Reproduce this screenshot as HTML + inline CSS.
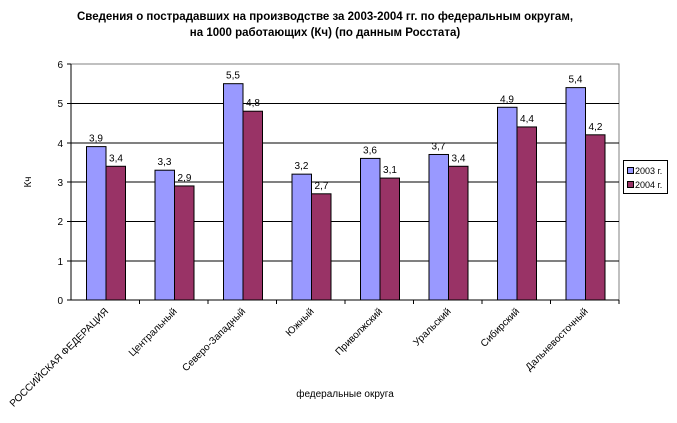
<!DOCTYPE html>
<html><head><meta charset="utf-8"><style>
body{margin:0;background:#fff}
svg{font-family:"Liberation Sans",Arial,sans-serif}
</style></head><body>
<svg width="677" height="418" viewBox="0 0 677 418">
<text x="325" y="20" font-size="11.5" font-weight="bold" text-anchor="middle">Сведения о пострадавших на производстве за 2003-2004 гг. по федеральным округам,</text>
<text x="325" y="36" font-size="11.5" font-weight="bold" text-anchor="middle">на 1000 работающих (Кч) (по данным Росстата)</text>
<rect x="71" y="64" width="548" height="236" fill="#fff" stroke="#808080"/>
<g stroke="#000" stroke-width="1">
<line x1="71" y1="103.5" x2="619" y2="103.5"/>
<line x1="71" y1="143" x2="619" y2="143"/>
<line x1="71" y1="182" x2="619" y2="182"/>
<line x1="71" y1="221.5" x2="619" y2="221.5"/>
<line x1="71" y1="261" x2="619" y2="261"/>
<line x1="71" y1="64" x2="71" y2="300"/>
<line x1="67" y1="300" x2="619" y2="300"/>
<line x1="67" y1="64" x2="71" y2="64"/><line x1="67" y1="103.5" x2="71" y2="103.5"/><line x1="67" y1="143" x2="71" y2="143"/><line x1="67" y1="182" x2="71" y2="182"/><line x1="67" y1="221.5" x2="71" y2="221.5"/><line x1="67" y1="261" x2="71" y2="261"/>
</g>
<g font-size="10" text-anchor="end">
<text x="63" y="68">6</text><text x="63" y="107">5</text><text x="63" y="147">4</text><text x="63" y="186">3</text><text x="63" y="225">2</text><text x="63" y="265">1</text><text x="63" y="304">0</text>
</g>
<text transform="translate(31,182) rotate(-90)" font-size="10" text-anchor="middle">Кч</text>
<g id="bars" stroke="#000" stroke-width="1" font-size="10" text-anchor="middle"></g>
<text x="345" y="397" font-size="10" text-anchor="middle">федеральные округа</text>
<rect x="623.5" y="160.5" width="44" height="33" fill="#fff" stroke="#000"/>
<rect x="627.5" y="167.5" width="6" height="6" fill="#9999ff" stroke="#000"/>
<text x="635" y="174" font-size="9">2003 г.</text>
<rect x="627.5" y="181.5" width="6" height="6" fill="#993366" stroke="#000"/>
<text x="635" y="188" font-size="9">2004 г.</text>
<g id="lbl" font-size="10" text-anchor="end"></g>
</svg>
<script>
var a=[3.9,3.3,5.5,3.2,3.6,3.7,4.9,5.4],b=[3.4,2.9,4.8,2.7,3.1,3.4,4.4,4.2];
var n=["РОССИЙСКАЯ ФЕДЕРАЦИЯ","Центральный","Северо-Западный","Южный","Приволжский","Уральский","Сибирский","Дальневосточный"];
var g=document.getElementById("bars"),l=document.getElementById("lbl"),s="",t="",k=39.33;
for(var i=0;i<8;i++){var x0=71+68.5*i;var x=x0+15;
var ha=a[i]*k,hb=b[i]*k;
s+='<rect x="'+(x+.5)+'" y="'+(300-ha)+'" width="19.5" height="'+ha+'" fill="#9999ff"/>';
s+='<rect x="'+(x+20)+'" y="'+(300-hb)+'" width="19.5" height="'+hb+'" fill="#993366"/>';
s+='<text stroke="none" x="'+(x+10)+'" y="'+(300-ha-5)+'">'+String(a[i]).replace(".",",")+'</text>';
s+='<text stroke="none" x="'+(x+30)+'" y="'+(300-hb-5)+'">'+String(b[i]).replace(".",",")+'</text>';
s+='<line x1="'+(x0+68.5)+'" y1="300" x2="'+(x0+68.5)+'" y2="304"/>';
var cx=x0+34+4;
t+='<text transform="translate('+cx+',312) rotate(-45)">'+n[i]+'</text>';}
g.innerHTML=s;l.innerHTML=t;
</script>
</body></html>
